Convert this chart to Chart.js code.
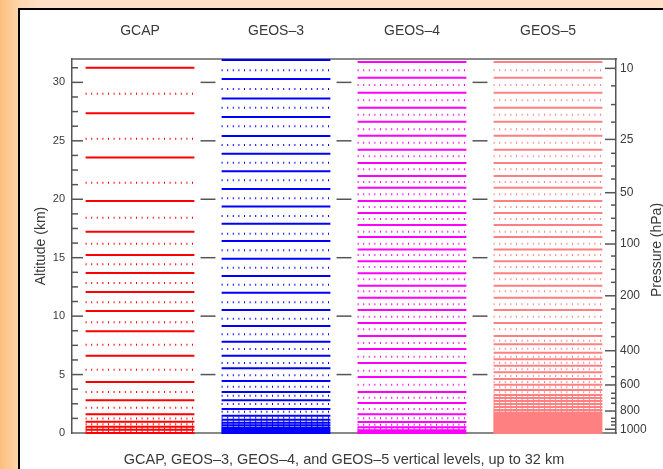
<!DOCTYPE html>
<html>
<head>
<meta charset="utf-8">
<script src="https://cdn.jsdelivr.net/npm/chart.js@4"></script>
<style>
  html, body { margin: 0; padding: 0; }
  body {
    width: 663px; height: 469px; overflow: hidden; position: relative;
    background: linear-gradient(to right, #fbbf7c 0px, #fdd5aa 18px, #fee1c6 40px);
  }
  #painel {
    position: absolute; left: 18px; top: 8px; width: 700px; height: 500px;
    background: #fff; border-left: 2px solid #000; border-top: 2px solid #000;
  }
  #caixa { position: absolute; left: 0; top: 0; width: 663px; height: 469px; }
</style>
</head>
<body>
<div id="painel"></div>
<div id="caixa"><canvas id="niveis"></canvas></div>
<script>
const modelos = ['GCAP', 'GEOS–3', 'GEOS–4', 'GEOS–5'];
const cores = ['#ff0000', '#0000ff', '#ff00ff', '#ff8080'];
const legenda = 'GCAP, GEOS–3, GEOS–4, and GEOS–5 vertical levels, up to 32 km';

// level edges (solid) and level centres (dotted), altitude in km
const gcapEdges = [0, 0.27, 0.54, 0.97, 1.60, 2.80, 4.37, 6.61, 8.71, 10.44, 12.06, 13.69, 15.23, 17.22, 19.85, 23.58, 27.35, 31.25];
const gcapMid = [0.13, 0.40, 0.75, 1.24, 2.16, 3.50, 5.42, 7.55, 9.47, 11.18, 12.83, 14.43, 16.19, 18.42, 21.41, 25.17, 29.02];

const geos3Edges = [0, 0.04, 0.10, 0.18, 0.30, 0.45, 0.66, 0.88, 1.14, 1.48, 2.05, 2.80, 3.51, 4.45, 5.53, 6.61, 7.81, 9.15, 10.52, 12.00, 13.43, 14.91, 16.42, 17.90, 19.39, 20.87, 22.39, 23.89, 25.41, 27.03, 28.63, 30.28, 31.91];
const geos3Mid = [0.02, 0.07, 0.14, 0.24, 0.37, 0.55, 0.77, 1.01, 1.31, 1.82, 2.48, 3.19, 3.96, 4.94, 5.99, 7.19, 8.44, 9.78, 11.18, 12.69, 14.14, 15.63, 17.05, 18.56, 20.08, 21.62, 23.12, 24.64, 26.24, 27.83, 29.43, 31.03];

const geos4Edges = [0, 0.09, 0.24, 0.49, 0.94, 1.60, 2.57, 3.51, 4.79, 5.99, 7.19, 8.30, 9.41, 10.52, 11.57, 12.60, 13.66, 14.69, 15.71, 16.77, 17.79, 18.82, 19.85, 20.98, 21.98, 23.10, 24.23, 25.43, 26.63, 27.83, 29.11, 30.39, 31.74];
const geos4Mid = [0.05, 0.16, 0.36, 0.71, 1.26, 2.05, 3.02, 4.13, 5.33, 6.53, 7.70, 8.87, 9.95, 11.01, 12.12, 13.15, 14.20, 15.23, 16.19, 17.22, 18.31, 19.33, 20.42, 21.47, 22.56, 23.67, 24.83, 26.00, 27.23, 28.48, 29.77, 31.03];

const geos5Edges = [0, 0.13, 0.26, 0.39, 0.52, 0.65, 0.78, 0.91, 1.04, 1.18, 1.32, 1.46, 1.60, 1.76, 1.97, 2.22, 2.48, 2.74, 3.00, 3.25, 3.68, 4.13, 4.62, 5.19, 5.76, 6.30, 6.87, 7.59, 8.30, 9.41, 10.52, 11.57, 12.60, 13.66, 14.69, 15.71, 16.77, 17.79, 18.82, 19.85, 20.98, 21.98, 23.10, 24.23, 25.43, 26.63, 27.83, 29.11, 30.39, 31.74];
const geos5Mid = [0.07, 0.20, 0.33, 0.46, 0.59, 0.72, 0.85, 0.98, 1.11, 1.25, 1.39, 1.53, 1.68, 1.87, 2.10, 2.35, 2.61, 2.87, 3.12, 3.48, 3.91, 4.36, 4.88, 5.45, 6.01, 6.53, 7.21, 7.90, 8.87, 9.95, 11.01, 12.12, 13.15, 14.20, 15.23, 16.19, 17.22, 18.31, 19.33, 20.42, 21.47, 22.56, 23.67, 24.83, 26.00, 27.23, 28.48, 29.77, 31.03];

// axes
const altTicks = [0, 5, 10, 15, 20, 25, 30];
const altMinor = [1.25, 2.5, 3.75, 6.25, 7.5, 8.75, 11.25, 12.5, 13.75, 16.25, 17.5, 18.75, 21.25, 22.5, 23.75, 26.25, 27.5, 28.75, 31.25];
const pressLabels = [10, 25, 50, 100, 200, 400, 600, 800, 1000];
const pressAlt = [31.20, 25.12, 20.56, 16.17, 11.74, 7.04, 4.11, 1.88, 0.32];
const pressMinorAlt = [29.7, 28.1, 26.6, 23.93, 22.84, 21.73, 19.50, 18.37, 17.31, 15.14, 14.00, 12.89, 10.61, 9.44, 8.24, 5.67, 4.82, 3.40, 2.97, 2.54, 1.26, 0.97, 0.68];

Chart.defaults.font.family = '"Liberation Sans", Arial, sans-serif';
Chart.defaults.color = '#333';

function linhas(col, niveis) {
  const pts = [];
  niveis.forEach(z => {
    pts.push({ x: col + 0.1, y: z }, { x: col + 0.9, y: z }, { x: col + 0.9, y: null });
  });
  return pts;
}

const datasets = [];
[gcapEdges, geos3Edges, geos4Edges, geos5Edges].forEach((niveis, i) => {
  datasets.push({
    data: linhas(i, niveis), borderColor: cores[i], borderWidth: 2,
    pointRadius: 0, spanGaps: false, clip: false
  });
});
[gcapMid, geos3Mid, geos4Mid, geos5Mid].forEach((niveis, i) => {
  datasets.push({
    data: linhas(i, niveis), borderColor: cores[i], borderWidth: 2, borderDash: [1, 4.6],
    pointRadius: 0, spanGaps: false, clip: false
  });
});

// inward tick marks, dashes between columns, right title
const marcas = {
  id: 'marcas',
  beforeDatasetsDraw(chart) {
    const { ctx, chartArea: a, scales } = chart;
    const y = scales.y, x = scales.x;
    ctx.save();
    ctx.strokeStyle = '#555';
    ctx.lineWidth = 1.5;
    const traco = (x0, x1, v) => {
      const py = y.getPixelForValue(v);
      ctx.beginPath(); ctx.moveTo(x0, py); ctx.lineTo(x1, py); ctx.stroke();
    };
    altTicks.forEach(v => { if (v > 0) traco(a.left, a.left + 11, v); });
    altMinor.forEach(v => traco(a.left, a.left + 6, v));
    pressAlt.forEach(v => traco(a.right - 11, a.right, v));
    pressMinorAlt.forEach(v => traco(a.right - 5, a.right, v));
    [1, 2, 3].forEach(c => {
      altTicks.forEach(v => {
        if (v > 0) traco(x.getPixelForValue(c - 0.055), x.getPixelForValue(c + 0.055), v);
      });
    });
    ctx.restore();
  },
  afterDraw(chart) {
    const { ctx, chartArea: a } = chart;
    ctx.save();
    ctx.translate(657, (a.top + a.bottom) / 2 + 4);
    ctx.rotate(-Math.PI / 2);
    ctx.font = '14px "Liberation Sans", Arial, sans-serif';
    ctx.fillStyle = '#3a3a3a';
    ctx.textAlign = 'center';
    ctx.textBaseline = 'middle';
    ctx.fillText('Pressure (hPa)', 0, 0);
    ctx.restore();
  }
};

new Chart(document.getElementById('niveis'), {
  type: 'line',
  data: { datasets: datasets },
  plugins: [marcas],
  options: {
    responsive: true,
    maintainAspectRatio: false,
    animation: false,
    events: [],
    layout: { padding: 0 },
    plugins: { legend: { display: false }, tooltip: { enabled: false } },
    scales: {
      x: {
        type: 'linear', position: 'top', min: 0, max: 4,
        afterBuildTicks: s => { s.ticks = [0.5, 1.5, 2.5, 3.5].map(v => ({ value: v })); },
        afterFit: s => { s.height = 59; },
        grid: { display: false, drawTicks: false },
        border: { display: true, color: '#888', width: 2 },
        ticks: { callback: (v, i) => modelos[i], padding: 19, color: '#3a3a3a', font: { size: 14 }, maxRotation: 0 }
      },
      xb: {
        type: 'linear', position: 'bottom', min: 0, max: 4,
        afterFit: s => { s.height = 36; },
        grid: { display: false, drawTicks: false },
        border: { display: true, color: '#888', width: 2 },
        ticks: { display: false },
        title: { display: true, text: legenda, color: '#3a3a3a', font: { size: 14.5 }, padding: { top: 0, bottom: 0 } }
      },
      y: {
        position: 'left', min: 0, max: 32,
        afterBuildTicks: s => { s.ticks = altTicks.map(v => ({ value: v })); },
        afterFit: s => { s.width = 72; },
        grid: { display: false, drawTicks: false },
        border: { display: true, color: '#555', width: 1.5 },
        ticks: { padding: 7, font: { size: 11 }, color: '#3a3a3a' },
        title: { display: true, text: 'Altitude (km)', color: '#3a3a3a', font: { size: 14 }, padding: { top: 33, bottom: 0 } }
      },
      yp: {
        position: 'right', min: 0, max: 32,
        afterBuildTicks: s => { s.ticks = pressAlt.map(v => ({ value: v })); },
        afterFit: s => { s.width = 47; },
        grid: { display: false, drawTicks: false },
        border: { display: true, color: '#555', width: 1.5 },
        ticks: { callback: (v, i) => pressLabels[i], padding: 4, font: { size: 12 }, color: '#3a3a3a' }
      }
    }
  }
});
</script>
</body>
</html>
